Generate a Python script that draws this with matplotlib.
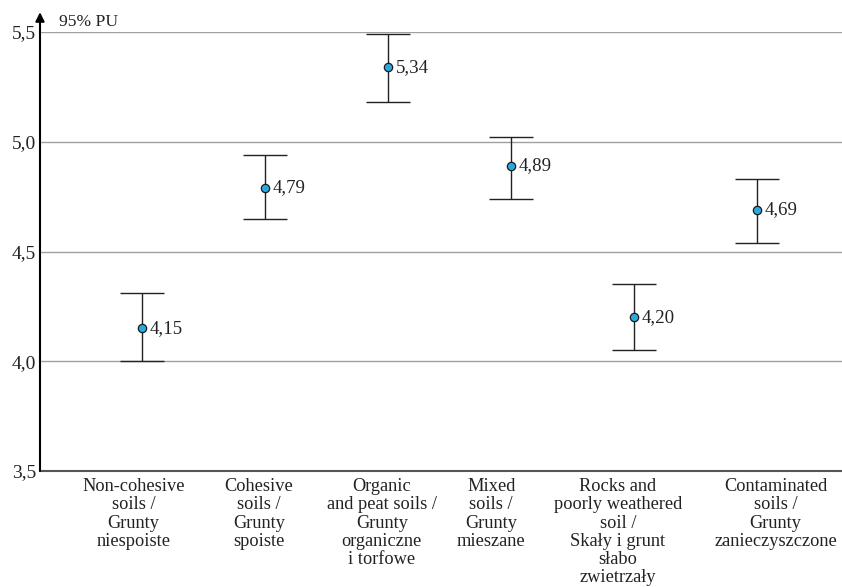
import numpy as np
import matplotlib.pyplot as plt

plt.rcParams['font.family'] = ['Liberation Serif', 'DejaVu Serif']

# data
categories = ['Non-cohesive\nsoils /\nGrunty\nniespoiste',
              'Cohesive\nsoils /\nGrunty\nspoiste',
              'Organic\nand peat soils /\nGrunty\norganiczne\ni torfowe',
              'Mixed\nsoils /\nGrunty\nmieszane',
              'Rocks and\npoorly weathered\nsoil /\nSkały i grunt\nsłabo\nzwietrzały',
              'Contaminated\nsoils /\nGrunty\nzanieczyszczone']
means = [4.15, 4.79, 5.34, 4.89, 4.20, 4.69]
lower = [4.00, 4.65, 5.18, 4.74, 4.05, 4.54]
upper = [4.31, 4.94, 5.49, 5.02, 4.35, 4.83]
yticks = [3.5, 4.0, 4.5, 5.0, 5.5]

# the category labels in the original sit a bit off the markers
label_shift = [-0.07, -0.05, -0.05, -0.16, -0.13, 0.15]

x = np.arange(len(categories))
means_a = np.array(means)
err = [means_a - np.array(lower), np.array(upper) - means_a]

fig = plt.figure(figsize=(8.42, 5.87), dpi=100)
ax = fig.add_axes([0.0475, 0.1976, 0.9525, 0.7479])

for yv in yticks[1:]:
    ax.axhline(yv, color='#a0a0a0', lw=1.0, zorder=0)

ax.errorbar(x, means, yerr=err, fmt='none', ecolor='#222222', elinewidth=1.0,
            capsize=16, capthick=1.0, zorder=2)
ax.plot(x, means, 'o', ms=6, mfc='#29a9e1', mec='#1a1a1a', mew=0.9, zorder=3)
for xi, m in zip(x, means):
    ax.text(xi + 0.065, m, ('%.2f' % m).replace('.', ','), fontsize=13.6,
            va='center', ha='left', color='#222222')

ax.set_xlim(-0.829, 5.691)
ax.set_ylim(3.5, 5.5)
ax.set_yticks(yticks)
ax.set_yticklabels([('%.1f' % v).replace('.', ',') for v in yticks], fontsize=14)
ax.set_xticks(x + np.array(label_shift))
ax.set_xticklabels(categories, fontsize=13.2, linespacing=1.1)
ax.tick_params(axis='both', length=0, pad=3, colors='#222222')
ax.tick_params(axis='x', pad=5)

for s in ['top', 'right']:
    ax.spines[s].set_visible(False)
ax.spines['left'].set_visible(False)
ax.spines['bottom'].set_color('#555555')
ax.spines['bottom'].set_linewidth(1.5)

# y axis with arrow head
ax.annotate('', xy=(0, 1.045), xytext=(0, 0), xycoords='axes fraction',
            arrowprops=dict(arrowstyle='-|>', color='black', lw=1.5,
                            mutation_scale=13, shrinkA=0, shrinkB=0),
            annotation_clip=False)
ax.text(0.024, 1.005, '95% PU', transform=ax.transAxes, fontsize=12.6,
        va='bottom', ha='left', color='#222222')

fig.savefig('out.png', dpi=100)
